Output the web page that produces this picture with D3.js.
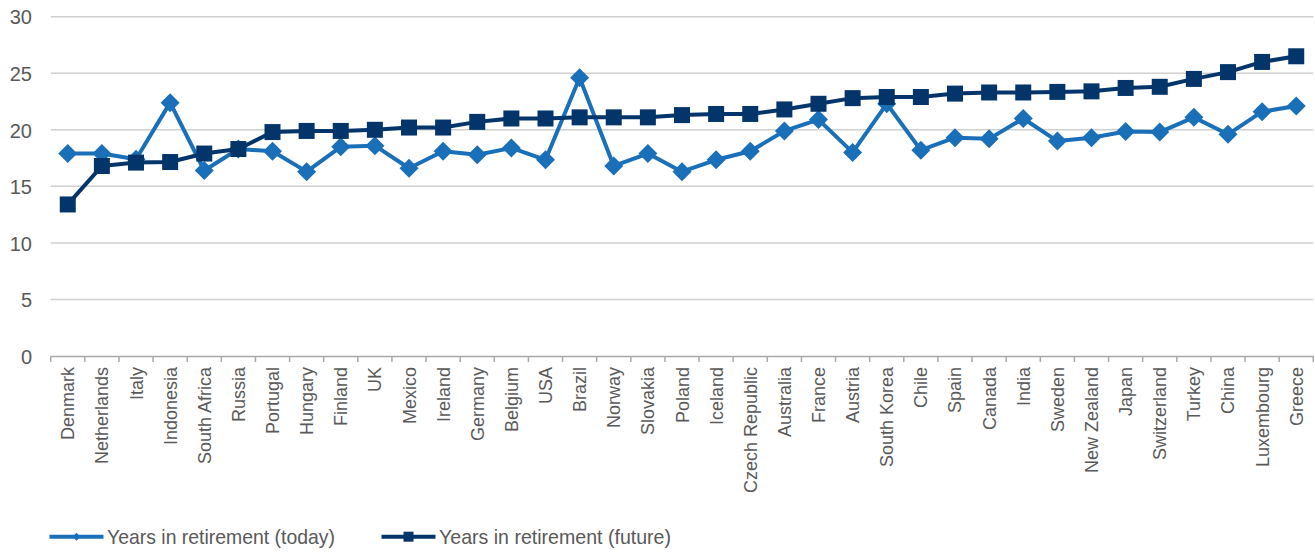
<!DOCTYPE html>
<html>
<head>
<meta charset="utf-8">
<script src="https://cdn.jsdelivr.net/npm/d3@7"></script>
<style>
  html, body { margin: 0; padding: 0; background: #fff; }
  svg { display: block; }
</style>
</head>
<body>
<svg id="chart" width="1315" height="552"></svg>
<script>
const categories = ["Denmark","Netherlands","Italy","Indonesia","South Africa","Russia","Portugal","Hungary","Finland","UK","Mexico","Ireland","Germany","Belgium","USA","Brazil","Norway","Slovakia","Poland","Iceland","Czech Republic","Australia","France","Austria","South Korea","Chile","Spain","Canada","India","Sweden","New Zealand","Japan","Switzerland","Turkey","China","Luxembourg","Greece"];
const todayValues = [17.9,17.9,17.4,22.4,16.4,18.3,18.1,16.3,18.5,18.6,16.6,18.1,17.8,18.4,17.35,24.6,16.8,17.9,16.3,17.35,18.1,19.9,20.9,18.0,22.3,18.2,19.3,19.2,21.0,19.0,19.3,19.85,19.8,21.1,19.6,21.6,22.1];
const futureValues = [13.4,16.8,17.1,17.15,17.9,18.3,19.8,19.9,19.9,20.0,20.2,20.2,20.7,21.0,21.0,21.1,21.1,21.1,21.3,21.4,21.4,21.8,22.3,22.8,22.9,22.9,23.2,23.3,23.3,23.35,23.4,23.7,23.8,24.5,25.1,26.0,26.5];
const yTicks = [0,5,10,15,20,25,30];
const seriesNames = ["Years in retirement (today)","Years in retirement (future)"];

(function () {
const svg = d3.select("#chart");
const mLeft = 50.7, mRight = 1313.3, mTop = 16.7, mBottom = 356;
const x = d3.scaleBand().domain(categories).range([mLeft, mRight]).padding(0);
const y = d3.scaleLinear().domain([0, 30]).range([mBottom, mTop]);
const cx = c => x(c) + x.bandwidth() / 2;

const colToday = "#1a6fb9", colFuture = "#03356b";
const textCol = "#595959";
const font = "'Liberation Sans', Arial, sans-serif";

// gridlines
svg.append("g").selectAll("line").data(yTicks.filter(t => t > 0)).join("line")
  .attr("x1", mLeft).attr("x2", mRight)
  .attr("y1", d => y(d)).attr("y2", d => y(d))
  .attr("stroke", "#d0d0d0").attr("stroke-width", 1.5);

// y axis labels
const yAxis = d3.axisLeft(y).tickValues(yTicks).tickSize(0).tickPadding(0);
const gy = svg.append("g").attr("transform", "translate(32,0)").call(yAxis);
gy.select(".domain").remove();
gy.selectAll("text").attr("font-family", font).attr("font-size", 20).attr("fill", textCol).attr("dy", "0.36em");

// x axis baseline + ticks at category boundaries
const xAxis = d3.axisBottom(x).tickSize(0).tickFormat("");
const gx = svg.append("g").attr("transform", `translate(0,${mBottom})`).call(xAxis);
gx.select(".domain").attr("stroke", "#a9a9a9").attr("stroke-width", 1.5);
gx.selectAll(".tick").remove();
const edges = categories.map(c => x(c)).concat([x(categories[categories.length - 1]) + x.bandwidth()]);
svg.append("g").selectAll("line").data(edges).join("line")
  .attr("x1", d => d).attr("x2", d => d)
  .attr("y1", mBottom).attr("y2", mBottom + 6)
  .attr("stroke", "#a9a9a9").attr("stroke-width", 1.5);

// x labels rotated
svg.append("g").selectAll("text").data(categories).join("text")
  .attr("transform", d => `translate(${cx(d) + 6.5},${mBottom + 11}) rotate(-90)`)
  .attr("text-anchor", "end")
  .attr("font-family", font).attr("font-size", 18).attr("fill", textCol)
  .text(d => d);

// lines
const lineGen = vals => d3.line().x((d, i) => cx(categories[i])).y(d => y(d))(vals);
svg.append("path").attr("d", lineGen(todayValues)).attr("fill", "none")
  .attr("stroke", colToday).attr("stroke-width", 4).attr("stroke-linejoin", "round");
const dm = 9.5;
svg.append("g").selectAll("path").data(todayValues).join("path")
  .attr("d", (d, i) => { const px = cx(categories[i]), py = y(d); return `M${px},${py - dm}L${px + dm},${py}L${px},${py + dm}L${px - dm},${py}Z`; })
  .attr("fill", colToday);

svg.append("path").attr("d", lineGen(futureValues)).attr("fill", "none")
  .attr("stroke", colFuture).attr("stroke-width", 4).attr("stroke-linejoin", "round");
const sq = 16;
svg.append("g").selectAll("rect").data(futureValues).join("rect")
  .attr("x", (d, i) => cx(categories[i]) - sq / 2).attr("y", d => y(d) - sq / 2)
  .attr("width", sq).attr("height", sq).attr("fill", colFuture);

// legend
const legY = 536.7;
const leg = [{name: seriesNames[0], col: colToday, x0: 49.5, shape: "diamond", w: 228},
             {name: seriesNames[1], col: colFuture, x0: 381.5, shape: "square", w: 232}];
const lg = svg.append("g");
leg.forEach(l => {
  lg.append("line").attr("x1", l.x0).attr("x2", l.x0 + 54).attr("y1", legY).attr("y2", legY)
    .attr("stroke", l.col).attr("stroke-width", 4);
  const mx = l.x0 + 27;
  if (l.shape === "diamond") {
    const r = 4;
    lg.append("path").attr("d", `M${mx},${legY - r}L${mx + r},${legY}L${mx},${legY + r}L${mx - r},${legY}Z`).attr("fill", l.col);
  } else {
    lg.append("rect").attr("x", mx - 5).attr("y", legY - 5).attr("width", 10).attr("height", 10).attr("fill", l.col);
  }
  lg.append("text").attr("x", l.x0 + 57.5).attr("y", legY).attr("dy", "0.36em")
    .attr("font-family", font)
    .attr("font-size", 21).attr("fill", textCol)
    .attr("textLength", l.w).attr("lengthAdjust", "spacingAndGlyphs")
    .text(l.name);
});
})();
</script>
</body>
</html>
